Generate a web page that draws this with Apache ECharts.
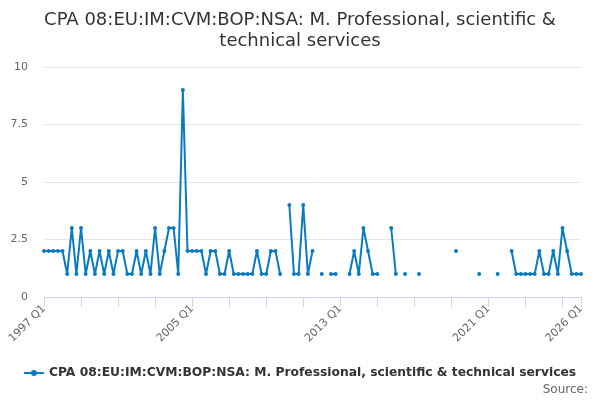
<!DOCTYPE html>
<html>
<head>
<meta charset="utf-8">
<script src="https://cdn.jsdelivr.net/npm/echarts@6/dist/echarts.min.js"></script>
<style>html,body{margin:0;padding:0;background:#fff}#c{width:600px;height:400px}</style>
</head>
<body>
<div id="c"></div>
<script>
const seriesName = 'CPA 08:EU:IM:CVM:BOP:NSA: M. Professional, scientific & technical services';
const categories = [];
for (let y = 1997; y <= 2026; y++) {
  for (let q = 1; q <= 4; q++) {
    if (y === 2026 && q > 1) break;
    categories.push(y + ' Q' + q);
  }
}
const values = [
  2,2,2,2,2,1,3,1,3,1,
  2,1,2,1,2,1,2,2,1,1,
  2,1,2,1,3,1,2,3,3,1,
  9,2,2,2,2,1,2,2,1,1,
  2,1,1,1,1,1,2,1,1,2,
  2,1,null,4,1,1,4,1,2,null,
  1,null,1,1,null,null,1,2,1,3,
  2,1,1,null,null,3,1,null,1,null,
  null,1,null,null,null,null,null,null,null,2,
  null,null,null,null,1,null,null,null,1,null,
  null,2,1,1,1,1,1,2,1,1,
  2,1,3,2,1,1,1
];
const yTicks = [0, 2.5, 5, 7.5, 10];
const lastIdx = categories.length - 1;
const chart = echarts.init(document.getElementById('c'), null, {renderer: 'canvas'});
chart.setOption({
  animation: false,
  textStyle: {fontFamily: 'DejaVu Sans'},
  title: {
    text: 'CPA 08:EU:IM:CVM:BOP:NSA: M. Professional, scientific &\ntechnical services',
    left: 'center', top: 5,
    textStyle: {fontFamily: 'DejaVu Sans', fontSize: 18, fontWeight: 'normal', color: '#333', lineHeight: 21}
  },
  graphic: [{
    type: 'text', right: 12, top: 384,
    style: {text: 'Source:', fill: '#666', font: '12px DejaVu Sans'}
  }],
  legend: {
    bottom: 16, left: 'center',
    itemWidth: 20, itemHeight: 10, itemGap: 4,
    icon: 'path://M0,4 L20,4 L20,6 L0,6 Z M7,5 A3,3 0 1,1 13,5 A3,3 0 1,1 7,5 Z',
    textStyle: {fontFamily: 'DejaVu Sans', fontSize: 12.3, fontWeight: 'bold', color: '#333'},
    data: [seriesName]
  },
  grid: {left: 44, right: 19, top: 67, bottom: 103},
  xAxis: {
    type: 'category', data: categories, boundaryGap: false,
    axisLine: {lineStyle: {color: '#ccd6eb'}},
    axisTick: {length: 10, lineStyle: {color: '#ccd6eb'}, interval: (i) => i % 8 === 0 || i === lastIdx},
    axisLabel: {
      rotate: 45, color: '#666', fontSize: 11, fontFamily: 'DejaVu Sans',
      interval: (i) => i % 32 === 0 || i === lastIdx, margin: 10
    },
    splitLine: {show: false}
  },
  yAxis: {
    type: 'value', min: 0, max: 10, interval: 2.5,
    axisLine: {show: false}, axisTick: {show: false},
    axisLabel: {color: '#666', fontSize: 11, margin: 16, formatter: (v) => yTicks.includes(v) ? String(v) : ''},
    splitLine: {lineStyle: {color: '#e6e6e6'}}
  },
  series: [{
    name: seriesName, type: 'line', data: values,
    connectNulls: false, showSymbol: true, showAllSymbol: true,
    symbol: 'circle', symbolSize: 4,
    itemStyle: {color: '#0a7bc1'},
    lineStyle: {color: '#0a7bc1', width: 2}
  }]
});
</script>
</body>
</html>
